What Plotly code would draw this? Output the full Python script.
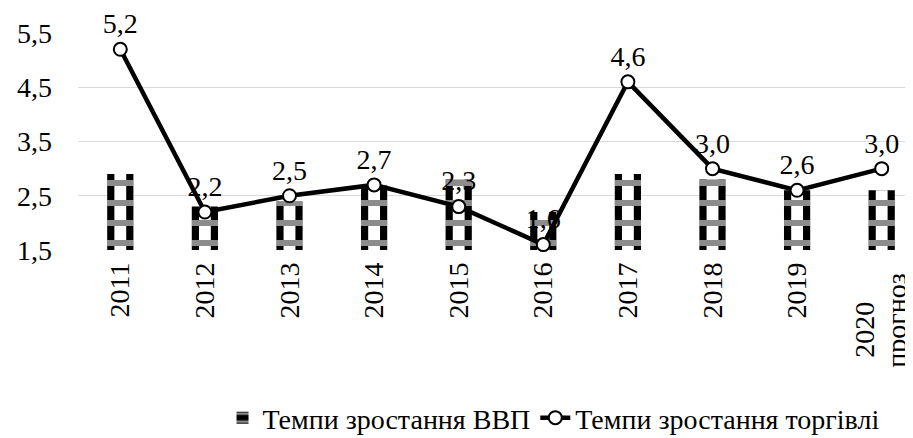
import plotly.graph_objects as go

years = ["2011", "2012", "2013", "2014", "2015", "2016", "2017", "2018", "2019", "2020"]
tick_labels = ["2011", "2012", "2013", "2014", "2015", "2016", "2017", "2018", "2019", ""]
forecast_label = ["2020", "прогноз"]
gdp = [2.9, 2.3, 2.4, 2.7, 2.8, 2.2, 2.9, 2.8, 2.6, 2.6]
trade = [5.2, 2.2, 2.5, 2.7, 2.3, 1.6, 4.6, 3.0, 2.6, 3.0]
yticks = [1.5, 2.5, 3.5, 4.5, 5.5]

FONT = "Liberation Serif"
FS = 28

fig = go.Figure()
# base: black with grey bands
fig.add_trace(go.Bar(
    x=years, y=gdp, name="Темпи зростання ВВП", width=0.31, opacity=1,
    marker=dict(color="black", line=dict(width=0),
                pattern=dict(shape="-", fgcolor="#8c8c8c", bgcolor="black", size=20,
                             solidity=0.3, fgopacity=1)),
))
# white centre column
fig.add_trace(go.Bar(
    x=years, y=gdp, name="centre", width=0.14, showlegend=False, hoverinfo="skip", opacity=1,
    marker=dict(color="white", line=dict(width=0)),
))
# grey bands across the whole bar
fig.add_trace(go.Bar(
    x=years, y=gdp, name="bands", width=0.31, showlegend=False, hoverinfo="skip", opacity=1,
    marker=dict(color="rgba(0,0,0,0)", line=dict(width=0),
                pattern=dict(shape="-", fgcolor="#8c8c8c", bgcolor="rgba(0,0,0,0)", size=20,
                             solidity=0.3, fgopacity=1)),
))
fig.add_trace(go.Scatter(
    x=years, y=trade, name="Темпи зростання торгівлі", mode="lines+markers+text",
    line=dict(color="black", width=4.5),
    marker=dict(size=13, color="white", line=dict(color="black", width=2)),
    text=[f"{v:.1f}".replace(".", ",") for v in trade],
    textposition="top center",
    textfont=dict(family=FONT, size=FS, color="black"),
    cliponaxis=False,
))

# two-line label of the forecast year, lines centred on each other
last_idx = len(years) - 1
for txt, dx, yc in [(forecast_label[0], -18, -0.3687), (forecast_label[1], 14, -0.3226)]:
    fig.add_annotation(
        x=last_idx, xref="x", y=yc, yref="paper", text=txt, textangle=-90,
        showarrow=False, xanchor="center", yanchor="middle", xshift=dx,
        font=dict(family=FONT, size=FS, color="black"),
    )

fig.update_layout(
    width=905, height=430,
    margin=dict(l=70, r=0, t=25, b=188, autoexpand=False),
    paper_bgcolor="white", plot_bgcolor="white",
    barmode="overlay",
    separators=",.",
    font=dict(family=FONT, size=FS, color="black"),
    showlegend=True,
    legend=dict(orientation="h", x=0.5695, xanchor="center", y=-0.774, yanchor="middle",
                font=dict(family=FONT, size=FS), traceorder="normal"),
)
fig.update_xaxes(
    type="category", range=[-0.5, 9.37], tickangle=-90,
    tickvals=years, ticktext=tick_labels,
    showgrid=False, showline=False, ticks="", ticklabelstandoff=6,
    tickfont=dict(family=FONT, size=FS),
)
fig.update_yaxes(
    range=[1.5, 5.5], tickvals=yticks,
    ticktext=[f"{v:.1f}".replace(".", ",") for v in yticks],
    showgrid=True, gridcolor="#d9d9d9", gridwidth=1, zeroline=False, showline=False,
    ticks="", ticklabelstandoff=25,
    tickfont=dict(family=FONT, size=FS),
)

fig.write_html("out.html")
